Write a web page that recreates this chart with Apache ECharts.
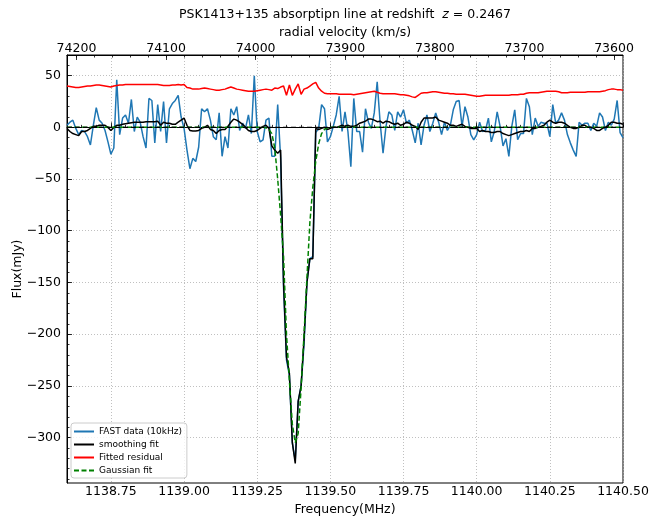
<!DOCTYPE html>
<html>
<head>
<meta charset="utf-8">
<title>PSK1413+135 absorption line</title>
<script src="https://cdn.jsdelivr.net/npm/echarts@6/dist/echarts.min.js"></script>
<style>
  html, body { margin: 0; padding: 0; background: #fff; }
  #chart { width: 649px; height: 518px; }
</style>
</head>
<body>
<div id="chart"></div>
<script>
// 10 kHz channels, first one on the left edge of the band
const FREQ_START = 1138.60
const FREQ_STEP = 0.01

// FAST data (10kHz), mJy
const fastData = [
  2, 5, 7, -1, -7, -3, -4, -9, -17, 2,
  19, 7, 4, -3, -14, -26, -20, 46, -7, 9,
  12, 4, 27, -4, 10, 5, -9, -20, 28, 26,
  -15, 22, -4, 25, -15, 18, 23, 26, 31, 10,
  -1, -22, -40, -30, -33, -19, 18, 15, 18, 7,
  -9, -12, 14, -28, -9, -20, 18, 12, 20, -3,
  4, -1, 12, -6, 50, -4, -14, -12, 7, 9,
  -28, -28, 22, -30, -155, -225, -240, -305, -322, -265,
  -250, -210, -150, -127, -125, -5, -1, 22, 18, -14,
  -9, 1, 12, 30, -4, 15, -4, -38, 28, -4,
  -4, -24, 18, 5, -1, 14, 44, 5, -25, 1,
  15, 12, -3, 15, 10, 17, 4, 7, -3, -15,
  4, -17, 2, 12, -4, 4, 14, 5, -7, 5,
  -3, 2, 17, 25, 26, 1, 20, 10, -7, -12,
  -7, 5, -4, -3, 9, -14, -4, 15, 1, -18,
  -11, -28, 1, 17, -12, -6, -6, 28, 20, -7,
  9, 1, 5, 4, 4, -9, 22, 4, 7, 14,
  7, -7, -15, -22, -28, 5, 2, 4, 4, -3,
  4, 1, 14, 10, -3, 5, 2, 8, 26, -5,
  -10
]

// smoothing fit
const smoothFit = [
  -1, -4, -6, -7, -8, -4, -4, -3, -1, 1,
  1, 2, 2, 2, 0, -3, 0, 2, 2, 3,
  3.5, 4, 4.5, 5, 5, 5, 5, 5.5, 5.5, 5.5,
  5.5, 6, 2, 5, 4, 4, 3, 3, 5, 7,
  9, 2, -3, -3.5, -3.5, -3, -1, 0, 2, -2,
  -3, -6, -3, -2, -2, 1, 5, 8, 7, 5,
  3, 0, -3, -4, -4, -3, -1, 1, 2, -1,
  -18, -22, -25, -22, -150, -222, -238, -305, -325, -265,
  -250, -205, -150, -127, -127, -1, -2, -1, 0, -2,
  -1, 0, 0, 1, 2, 1, 2, 1, 1, 2,
  4, 5, 6, 8, 8, 7, 5.5, 6, 4, 6,
  5.5, 4, 3, 4, 2, 3, 5, 4, 2, 1,
  -2, 5, 9, 9, 9, 9, 10, 7, 6, 5,
  4, 2, 2, 1, 2, 3, 1, 0, -1, -1,
  -1, -4, -3, -4, -4, -5, -5, -4, -4, -6,
  -7, -8, -7, -6, -5, -4, -4, -3, -4, -1,
  -1, 0, 1, 2, 5, 7, 5, 4, 5, 5,
  4, 2, 0, -1, -1, 0, 2, 2, 0, 0,
  -1, -3, -3, -1, 0, 2, 5, 5, 4, 4,
  3
]

// fitted residual (shown offset above the data)
const residual = [
  40, 39.5, 39, 38.5, 38.5, 39, 39.5, 40, 40, 40.5,
  41, 41, 40.5, 40, 39.5, 39, 40, 40.5, 41, 41,
  41.5, 41.5, 41.5, 41.5, 41.5, 41.5, 41.5, 41.5, 41.5, 41.5,
  41.5, 41.5, 41, 40.5, 40.5, 40.5, 41, 41, 41.5, 41,
  41.5, 38.5, 38, 37, 37, 37, 37.5, 38, 37.5, 37,
  36.5, 36, 36, 36.5, 37, 38, 39, 38, 37, 36.5,
  36, 35.5, 35, 35, 35, 35.5, 36, 36.5, 37, 36.5,
  36, 38, 37.5, 39, 40, 31, 41, 31, 37, 42,
  32, 37, 38, 40, 42, 43.5, 38, 35, 33, 32.5,
  32.5, 32.5, 32.5, 32, 32, 32, 32, 32, 31.5, 32,
  32.5, 33, 33.5, 34, 34.5, 35, 34, 33, 32.5, 32.5,
  32.5, 32.5, 32.5, 32, 31.5, 31.5, 31, 30.5, 29.5, 29,
  31, 33, 33.5, 33.5, 34, 34.5, 34.5, 34, 33.5, 33,
  33, 32.5, 32.5, 32, 32, 32, 32, 31.5, 31, 30.5,
  30, 30, 30.5, 31, 31, 31, 31, 31, 31, 31,
  31, 31, 31.5, 31.5, 31.5, 32, 32, 33, 33.5, 33.5,
  33.5, 33.5, 34, 34.5, 35, 35, 35, 35, 34.5, 33.5,
  33.5, 33.5, 34, 34, 34, 34, 34, 34, 34.5, 34.5,
  34.5, 34.5, 34.5, 35, 35.5, 36.5, 37, 37, 36.5, 36.5,
  36
]

// gaussian fit
const gaussFit = [
  0, 0, 0, 0, 0, 0, 0, 0, 0, 0,
  0, 0, 0, 0, 0, 0, 0, 0, 0, 0,
  0, 0, 0, 0, 0, 0, 0, 0, 0, 0,
  0, 0, 0, 0, 0, 0, 0, 0, 0, 0,
  0, 0, 0, 0, 0, 0, 0, 0, 0, 0,
  0, 0, 0, 0, 0, 0, 0, 0, 0, 0,
  0, 0, 0, 0, 0, 0, 0, 0, -0.5, -2,
  -6, -20, -50, -85, -125, -200, -245, -287, -305, -296,
  -252, -200, -145, -92, -58, -33, -16, -6, -2, -0.5,
  0, 0, 0, 0, 0, 0, 0, 0, 0, 0,
  0, 0, 0, 0, 0, 0, 0, 0, 0, 0,
  0, 0, 0, 0, 0, 0, 0, 0, 0, 0,
  0, 0, 0, 0, 0, 0, 0, 0, 0, 0,
  0, 0, 0, 0, 0, 0, 0, 0, 0, 0,
  0, 0, 0, 0, 0, 0, 0, 0, 0, 0,
  0, 0, 0, 0, 0, 0, 0, 0, 0, 0,
  0, 0, 0, 0, 0, 0, 0, 0, 0, 0,
  0, 0, 0, 0, 0, 0, 0, 0, 0, 0,
  0, 0, 0, 0, 0, 0, 0, 0, 0, 0,
  0
]

const freqTicks = [1138.75, 1139.00, 1139.25, 1139.50, 1139.75, 1140.00, 1140.25, 1140.50]
const velTicks = [74200, 74100, 74000, 73900, 73800, 73700, 73600]
const fluxTicks = [-300, -250, -200, -150, -100, -50, 0, 50]

const FREQ_MIN = 1138.60
const FREQ_MAX = 1140.50
const VEL_MIN = 73590
const VEL_MAX = 74210.6
const FLUX_MIN = -344
const FLUX_MAX = 70

// the zero flux level, drawn across the band
const zeroLevel = [[FREQ_MIN, 0], [FREQ_MAX, 0]]

function minorTicks(from, to, step) {
  const out = []
  for (let v = from; v <= to + step / 100; v += step) out.push(Math.round(v * 1000) / 1000)
  return out
}
const freqMinor = minorTicks(1138.60, 1140.50, 0.05)
const velMinor = minorTicks(73600, 74200, 20)
const fluxMinor = minorTicks(-340, 60, 10)

function pairs(values) {
  return values.map((v, i) => [FREQ_START + i * FREQ_STEP, v])
}

const FONT = 'DejaVu Sans'
const minus = v => (v < 0 ? '\u2212' + Math.abs(v) : String(v))
const gridLine = { show: true, lineStyle: { color: '#b0b0b0', type: [1, 2], width: 0.8 } }

function minorAxis(position, min, max, values, extra) {
  return Object.assign({
    type: 'value', position: position, min: min, max: max,
    axisLine: { show: false },
    axisTick: { show: true, inside: true, length: 2.5, customValues: values, lineStyle: { color: '#000', width: 0.8 } },
    axisLabel: { show: false },
    splitLine: { show: false }
  }, extra || {})
}

const chart = echarts.init(document.getElementById('chart'), null, { renderer: 'canvas' })

const option = {
  animation: false,
  backgroundColor: '#fff',
  textStyle: { fontFamily: FONT },
  grid: {
    left: 67, right: 26, top: 55, bottom: 35,
    outerBoundsMode: 'none', containLabel: false,
    show: true, borderColor: '#000', borderWidth: 1
  },
  graphic: [{
    type: 'text', x: 345, y: 15,
    style: {
      text: '{a|PSK1413+135 absorptipn line at redshift  }{i|z}{a| = 0.2467}',
      align: 'center', verticalAlign: 'middle',
      rich: {
        a: { fontFamily: FONT, fontSize: 12.5, fill: '#000' },
        i: { fontFamily: FONT, fontSize: 12.5, fontStyle: 'italic', fill: '#000' }
      }
    }
  }],
  legend: {
    orient: 'vertical', left: 71, top: 423,
    padding: [4, 5, 3, 2], itemGap: 4, itemWidth: 20, itemHeight: 9,
    backgroundColor: 'rgba(255,255,255,0.8)', borderColor: '#cccccc', borderWidth: 1, borderRadius: 3,
    itemStyle: { opacity: 0 },
    textStyle: { fontFamily: FONT, fontSize: 9, color: '#000' },
    data: ['FAST data (10kHz)', 'smoothing fit', 'Fitted residual', 'Gaussian fit']
  },
  xAxis: [
    {
      type: 'value', position: 'bottom', min: FREQ_MIN, max: FREQ_MAX,
      name: 'Frequency(MHz)', nameLocation: 'middle', nameGap: 15,
      nameTextStyle: { fontFamily: FONT, fontSize: 12.5, color: '#000' },
      axisLine: { show: true, lineStyle: { color: '#000', width: 1 } },
      axisTick: { show: true, inside: true, length: 5, customValues: freqTicks, lineStyle: { color: '#000', width: 0.8 } },
      axisLabel: { customValues: freqTicks, formatter: v => v.toFixed(2), margin: 2, fontFamily: FONT, fontSize: 12.5, color: '#000' },
      splitLine: gridLine
    },
    minorAxis('bottom', FREQ_MIN, FREQ_MAX, freqMinor),
    {
      type: 'value', position: 'top', min: VEL_MIN, max: VEL_MAX, inverse: true,
      name: 'radial velocity (km/s)', nameLocation: 'middle', nameGap: 16, nameMoveOverlap: false,
      nameTextStyle: { fontFamily: FONT, fontSize: 12.5, color: '#000' },
      axisLine: { show: true, lineStyle: { color: '#000', width: 1 } },
      axisTick: { show: true, inside: true, length: 5, customValues: velTicks, lineStyle: { color: '#000', width: 0.8 } },
      axisLabel: { customValues: velTicks, formatter: v => String(v), margin: 0, fontFamily: FONT, fontSize: 12.5, color: '#000' },
      splitLine: { show: false }
    },
    minorAxis('top', VEL_MIN, VEL_MAX, velMinor, { inverse: true })
  ],
  yAxis: [
    {
      type: 'value', position: 'left', min: FLUX_MIN, max: FLUX_MAX,
      name: 'Flux(mJy)', nameLocation: 'middle', nameGap: 43, nameRotate: 90, nameMoveOverlap: false,
      nameTextStyle: { fontFamily: FONT, fontSize: 12.5, color: '#000' },
      axisLine: { show: true, lineStyle: { color: '#000', width: 1 } },
      axisTick: { show: true, inside: true, length: 5, customValues: fluxTicks, lineStyle: { color: '#000', width: 0.8 } },
      axisLabel: { customValues: fluxTicks, formatter: minus, margin: 6, fontFamily: FONT, fontSize: 12.5, color: '#000' },
      splitLine: gridLine
    },
    minorAxis('left', FLUX_MIN, FLUX_MAX, fluxMinor)
  ],
  series: [
    {
      name: 'FAST data (10kHz)', type: 'line', data: pairs(fastData),
      symbol: 'none', showSymbol: false, lineStyle: { color: '#1f77b4', width: 1.5 }, itemStyle: { color: '#1f77b4' }
    },
    {
      name: 'smoothing fit', type: 'line', data: pairs(smoothFit),
      symbol: 'none', showSymbol: false, lineStyle: { color: '#000', width: 1.5 }, itemStyle: { color: '#000' }
    },
    {
      name: 'Fitted residual', type: 'line', data: pairs(residual),
      symbol: 'none', showSymbol: false, lineStyle: { color: '#ff0000', width: 1.5 }, itemStyle: { color: '#ff0000' }
    },
    {
      name: 'Gaussian fit', type: 'line', data: pairs(gaussFit),
      symbol: 'none', showSymbol: false, lineStyle: { color: '#008000', width: 1.5, type: [5, 2.5] }, itemStyle: { color: '#008000' }
    },
    {
      name: 'zero', type: 'line', data: zeroLevel, z: 5, silent: true,
      symbol: 'none', showSymbol: false, lineStyle: { color: '#000', width: 1.3, type: [5, 3] }
    }
  ]
}

chart.setOption(option)
</script>
</body>
</html>
